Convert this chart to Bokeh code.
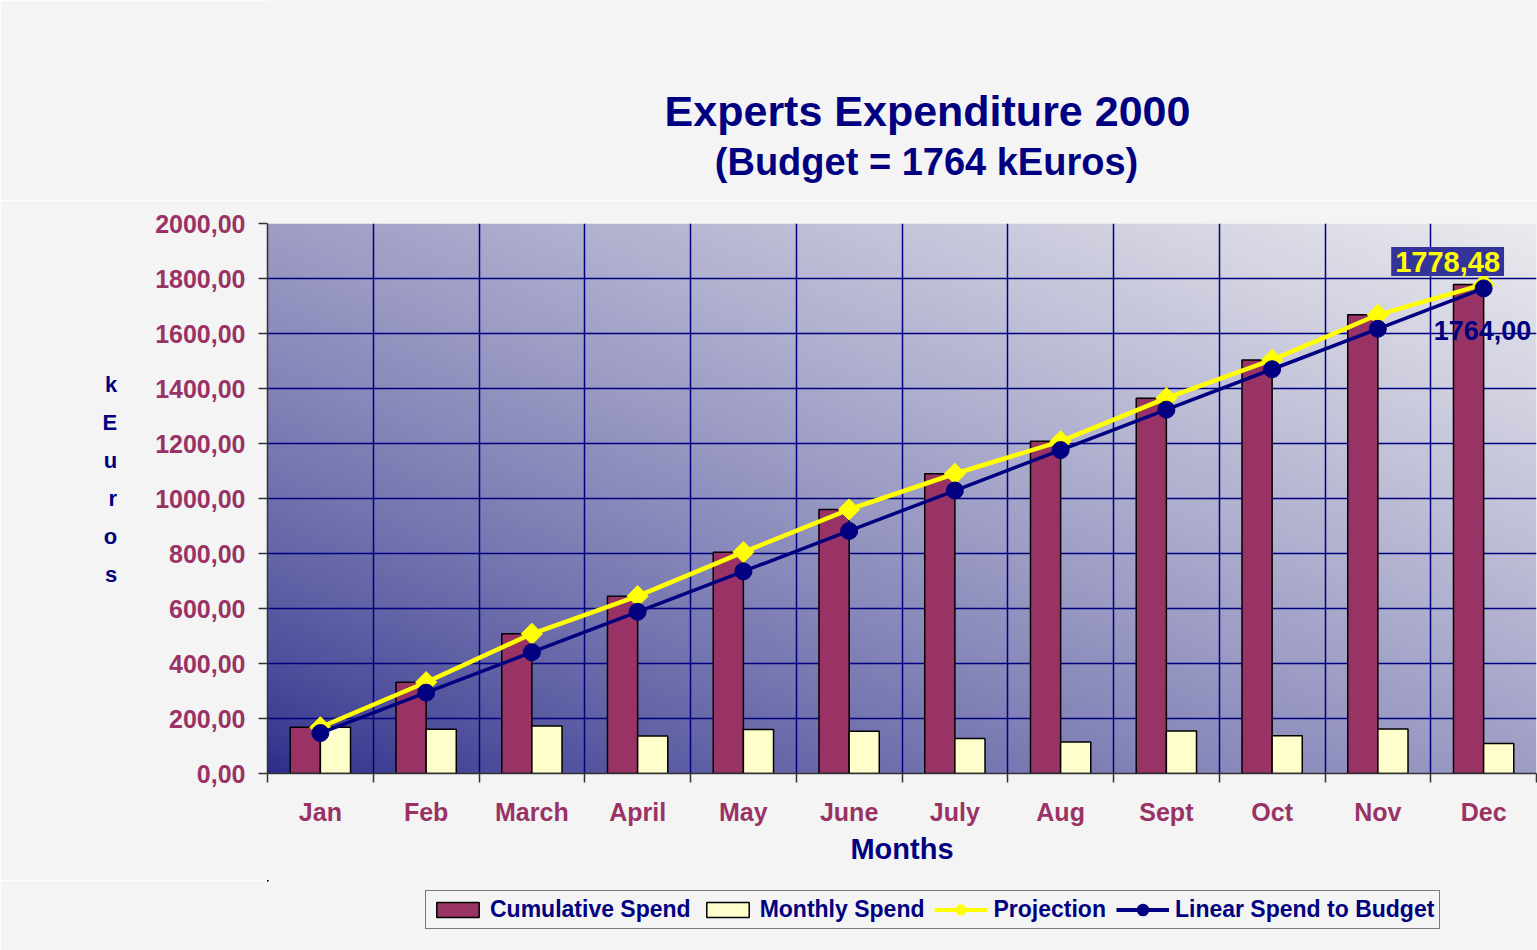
import numpy as np
from bokeh.plotting import figure
from bokeh.layouts import column
from bokeh.models import (Range1d, FixedTicker, Label, Legend, LegendItem,
                          ColumnDataSource)
from bokeh.embed import file_html
from bokeh.resources import INLINE

# ---------------- data ----------------
months = ["Jan", "Feb", "March", "April", "May", "June", "July", "Aug",
          "Sept", "Oct", "Nov", "Dec"]
cumulative_spend = [168, 332, 508, 645, 805, 960, 1090, 1208, 1365, 1504, 1668, 1778.48]
monthly_spend = [168, 161, 173, 136, 160, 154, 127, 115, 155, 137, 162, 109]
projection = [168, 332, 508, 645, 805, 960, 1090, 1208, 1365, 1504, 1668, 1778.48]
linear_spend = [147, 294, 441, 588, 735, 882, 1029, 1176, 1323, 1470, 1617, 1764]
y_ticks = [0, 200, 400, 600, 800, 1000, 1200, 1400, 1600, 1800, 2000]
y_tick_labels = ["0,00", "200,00", "400,00", "600,00", "800,00", "1000,00",
                 "1200,00", "1400,00", "1600,00", "1800,00", "2000,00"]
title_text = "Experts Expenditure 2000"
subtitle_text = "(Budget = 1764 kEuros)"
y_title = "k\nE\nu\nr\no\ns"
x_title = "Months"
series_names = ["Cumulative Spend", "Monthly Spend", "Projection", "Linear Spend to Budget"]

# ---------------- styling ----------------
FONT = "Liberation Sans"
NAVY = "#000080"
MAROON = "#993366"
CREAM = "#FFFFCC"
YELLOW = "#FFFF00"
PAGE_BG = "#F4F4F4"
W = 1537
H_TOP, H_MAIN, H_LEG = 200, 680, 70
FRAME_L, FRAME_R = 267, 1536


def plain_figure(height, y_range):
    # helper strip: x data units == page pixels (frame aligned with main plot)
    f = figure(width=W, height=height, x_range=Range1d(FRAME_L, FRAME_R),
               y_range=y_range, x_axis_type=None, y_axis_type=None,
               output_backend="svg", toolbar_location=None,
               min_border_left=FRAME_L, min_border_right=W - FRAME_R,
               min_border_top=0, min_border_bottom=0)
    f.grid.visible = False
    f.outline_line_color = None
    f.background_fill_color = PAGE_BG
    f.border_fill_color = PAGE_BG
    return f


# ---------------- title strip ----------------
pt = plain_figure(H_TOP, Range1d(H_TOP, 0))
pt.add_layout(Label(x=927, y=110, text=title_text, text_align="center",
                    text_baseline="middle", text_color=NAVY, text_font=FONT,
                    text_font_size="43px", text_font_style="bold"))
pt.add_layout(Label(x=926, y=161, text=subtitle_text, text_align="center",
                    text_baseline="middle", text_color=NAVY, text_font=FONT,
                    text_font_size="38px", text_font_style="bold"))

# ---------------- main chart ----------------
n = len(months)
centers = [i + 0.5 for i in range(n)]
bar_w = 0.285

src = ColumnDataSource(dict(
    x=centers,
    x_cum=[c - bar_w / 2 for c in centers],
    x_mon=[c + bar_w / 2 for c in centers],
    cumulative=cumulative_spend,
    monthly=monthly_spend,
    projection=projection,
    linear=linear_spend,
))

p = figure(width=W, height=H_MAIN,
           x_range=Range1d(0, n), y_range=Range1d(0, 2000),
           output_backend="svg", toolbar_location=None,
           min_border_left=FRAME_L, min_border_right=W - FRAME_R,
           min_border_top=23, min_border_bottom=107)
p.border_fill_color = PAGE_BG
p.background_fill_color = PAGE_BG
p.outline_line_color = None

# gradient background of the plot area (diagonal, dark navy -> light grey)
nx, ny = 240, 104
u = np.linspace(0, 1, nx)[None, :]
v = np.linspace(0, 1, ny)[:, None]
t = (0.5 * u + 0.5 * v) ** 0.75
img = np.empty((ny, nx), dtype=np.uint32)
view = img.view(dtype=np.uint8).reshape((ny, nx, 4))
view[:, :, 0] = (44 + 190 * t).astype(np.uint8)
view[:, :, 1] = (44 + 190 * t).astype(np.uint8)
view[:, :, 2] = (138 + 100 * t).astype(np.uint8)
view[:, :, 3] = 255
p.image_rgba(image=[img], x=0, y=0, dw=n, dh=2000, level="image")

# grids
p.xgrid.ticker = FixedTicker(ticks=list(range(1, n)))
p.xgrid.grid_line_color = NAVY
p.xgrid.grid_line_width = 1.5
p.ygrid.ticker = FixedTicker(ticks=y_ticks)
p.ygrid.grid_line_color = NAVY
p.ygrid.grid_line_width = 1.5

# x axis
xa = p.xaxis[0]
xa.ticker = FixedTicker(ticks=centers, minor_ticks=list(range(0, n + 1)))
xa.major_label_overrides = {c: m for c, m in zip(centers, months)}
xa.major_tick_out = 0
xa.major_tick_in = 0
xa.minor_tick_out = 9
xa.minor_tick_in = 0
xa.minor_tick_line_color = "#333333"
xa.minor_tick_line_width = 1.5
xa.axis_line_color = "#333333"
xa.axis_line_width = 1.5
xa.major_label_text_font = FONT
xa.major_label_text_font_size = "25px"
xa.major_label_text_font_style = "bold"
xa.major_label_text_color = MAROON
xa.major_label_standoff = 15
xa.axis_label = x_title
xa.axis_label_text_font = FONT
xa.axis_label_text_font_size = "29px"
xa.axis_label_text_font_style = "bold"
xa.axis_label_text_color = NAVY
xa.axis_label_standoff = 4

# y axis
ya = p.yaxis[0]
ya.ticker = FixedTicker(ticks=y_ticks, minor_ticks=[])
ya.major_label_overrides = {tv: tl for tv, tl in zip(y_ticks, y_tick_labels)}
ya.major_tick_out = 9
ya.major_tick_in = 0
ya.major_tick_line_color = "#333333"
ya.major_tick_line_width = 1.5
ya.axis_line_color = "#333333"
ya.axis_line_width = 1.5
ya.major_label_text_font = FONT
ya.major_label_text_font_size = "25px"
ya.major_label_text_font_style = "bold"
ya.major_label_text_color = MAROON
ya.major_label_standoff = 13
ya.axis_label = y_title + "\n"
ya.axis_label_orientation = "horizontal"
ya.axis_label_text_font = FONT
ya.axis_label_text_font_size = "22px"
ya.axis_label_text_font_style = "bold"
ya.axis_label_text_color = NAVY
ya.axis_label_text_line_height = 1.52
ya.axis_label_standoff = 35

# bars
bar_kw = dict(width=bar_w, line_color="black", line_width=1.5)
p.vbar(x="x_cum", top="cumulative", source=src, fill_color=MAROON, **bar_kw)
p.vbar(x="x_mon", top="monthly", source=src, fill_color=CREAM, **bar_kw)

# lines
p.line(x="x", y="projection", source=src, line_color=YELLOW, line_width=4.5)
p.scatter(x="x", y="projection", source=src, marker="square", angle=0.785398,
          size=15, fill_color=YELLOW, line_color=YELLOW)
p.line(x="x", y="linear", source=src, line_color=NAVY, line_width=3.5)
p.scatter(x="x", y="linear", source=src, marker="circle", size=17,
          fill_color=NAVY, line_color=NAVY)

# data labels
p.add_layout(Label(x=centers[-1], y=projection[-1],
                   text=f"{projection[-1]:.2f}".replace(".", ","),
                   x_offset=-36, y_offset=23, text_align="center",
                   text_baseline="middle", text_color=YELLOW, text_font=FONT,
                   text_font_size="29px", text_font_style="bold",
                   background_fill_color="#333399",
                   padding=dict(left=4, right=4, top=5, bottom=4)))
p.add_layout(Label(x=centers[-1], y=linear_spend[-1],
                   text=f"{linear_spend[-1]:.2f}".replace(".", ","),
                   x_offset=-50, y_offset=-42, text_align="left",
                   text_baseline="middle", text_color=NAVY, text_font=FONT,
                   text_font_size="27px", text_font_style="bold"))

# ---------------- legend strip ----------------
# legend proxies share the data but lie far outside this strip's ranges (not visible)
pl = plain_figure(H_LEG, Range1d(-10000, -10000 + H_LEG))
l_cum = pl.vbar(x="x_cum", top="cumulative", source=src, fill_color=MAROON, **bar_kw)
l_mon = pl.vbar(x="x_mon", top="monthly", source=src, fill_color=CREAM, **bar_kw)
l_pl = pl.line(x="x", y="projection", source=src, line_color=YELLOW, line_width=4)
l_pm = pl.scatter(x="x", y="projection", source=src, marker="diamond",
                  fill_color=YELLOW, line_color=YELLOW, line_width=6)
l_ll = pl.line(x="x", y="linear", source=src, line_color=NAVY, line_width=4)
l_lm = pl.scatter(x="x", y="linear", source=src, marker="circle",
                  fill_color=NAVY, line_color=NAVY, line_width=5)

legend = Legend(items=[
    LegendItem(label=series_names[0], renderers=[l_cum]),
    LegendItem(label=series_names[1], renderers=[l_mon]),
    LegendItem(label=series_names[2], renderers=[l_pl, l_pm]),
    LegendItem(label=series_names[3], renderers=[l_ll, l_lm]),
], orientation="horizontal", location=(425 - FRAME_L, 21))
legend.border_line_color = "black"
legend.border_line_width = 1.5
legend.background_fill_color = PAGE_BG
legend.background_fill_alpha = 1
legend.label_text_font = FONT
legend.label_text_font_size = "23px"
legend.label_text_font_style = "bold"
legend.label_text_color = NAVY
legend.glyph_width = 53
legend.glyph_height = 19
legend.label_standoff = 6
legend.spacing = 10
legend.padding = 5
legend.margin = 0
pl.add_layout(legend, "center")

layout = column(pt, p, pl, spacing=0)
open("out.html", "w").write(file_html(layout, INLINE))
